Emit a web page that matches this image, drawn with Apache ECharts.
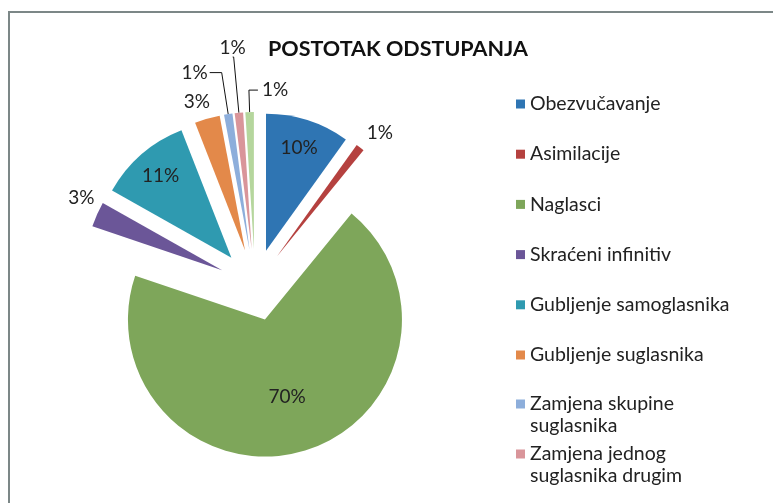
<!DOCTYPE html>
<html><head><meta charset="utf-8">
<script src="https://cdn.jsdelivr.net/npm/echarts@6/dist/echarts.min.js"></script>
<style>
html,body{margin:0;padding:0;background:#fff;}
#frame{position:absolute;left:8px;top:11px;width:820px;height:560px;border:2px solid #7c8787;box-sizing:border-box;}
#chart{position:absolute;left:0;top:0;width:773px;height:503px;}
</style></head><body>
<div id="frame"></div><div id="chart"></div>
<script>
const titleText = 'POSTOTAK ODSTUPANJA';
const categories = ['Obezvučavanje', 'Asimilacije', 'Naglasci', 'Skraćeni infinitiv', 'Gubljenje samoglasnika', 'Gubljenje suglasnika', 'Zamjena skupine suglasnika', 'Zamjena jednog suglasnika drugim', 'Ostalo'];
const values = [10, 1, 70, 3, 11, 3, 1, 1, 1];
const colors = ['#2F75B3', '#B5413F', '#7EA65A', '#6B5698', '#2F9AB0', '#E3894A', '#8DAEDB', '#D9959A', '#B5D69D'];
const wrappedNames = {
  'Zamjena skupine suglasnika': '\nZamjena skupine\nsuglasnika',
  'Zamjena jednog suglasnika drugim': '\nZamjena jednog\nsuglasnika drugim'
};

const FONT = 'Lato';
const TXT = '#222222';
const LABEL_SIZE = 19;
// label style per slice: 'far'/'mid' = inside label from an overlay ring, 'out' = outside
const labelKind = ['far', 'out', 'mid', 'out', 'far', 'out', 'out', 'out', 'out'];
const outCfg = {
  1: {dist: 2, line: false, len: 6, len2: 1, va: 'bottom'},
  3: {dist: -4, line: false, len: 6, len2: 1, va: 'bottom', pad: [0, 0, 5, 0]},
  5: {dist: -6, line: false, len: 8, len2: 1, va: 'bottom'},
  6: {dist: 2, line: true, len: 42, len2: 12},
  7: {dist: 0, line: true, len: 56, len2: 1, va: 'bottom', align: 'center'},
  8: {dist: 2, line: true, len: 22, len2: 9, align: 'left', mirror: true, pad: [0, 0, 0, 24]}
};

const mainData = categories.map((n, i) => {
  const item = {name: n, value: values[i], selected: true, itemStyle: {color: colors[i]}};
  if (labelKind[i] !== 'out') {
    item.label = {show: false};
    item.labelLine = {show: false};
  } else {
    const c = outCfg[i];
    item.label = {show: true, position: 'outside', distanceToLabelLine: c.dist};
    if (c.pad) item.label.padding = c.pad;
    item.labelLine = {show: c.line, length: c.len, length2: c.len2};
  }
  return item;
});
function overlayData(kind) {
  return categories.map((n, i) => ({
    name: n, value: values[i], selected: true,
    itemStyle: {color: 'rgba(0,0,0,0)'},
    label: {show: labelKind[i] === kind}
  }));
}
function overlaySeries(kind, radius) {
  return {
    type: 'pie', name: 'labels-' + kind, center: [255, 285], radius: radius,
    startAngle: 90, clockwise: true, silent: true,
    selectedMode: 'multiple', selectedOffset: 36,
    emphasis: {disabled: true},
    select: {itemStyle: {borderWidth: 0}},
    label: {position: 'inside', fontFamily: FONT, fontSize: LABEL_SIZE, color: TXT, textBorderWidth: 0,
      formatter: p => p.value + '%'},
    labelLine: {show: false},
    data: overlayData(kind)
  };
}

const chart = echarts.init(document.getElementById('chart'), null, {renderer: 'canvas'});
const legendBase = {
  orient: 'vertical', icon: 'rect', itemWidth: 9, itemHeight: 9, padding: 0,
  selectedMode: false, left: 516,
  textStyle: {fontFamily: FONT, fontSize: 19.5, color: TXT, lineHeight: 22}
};
chart.setOption({
  animation: false,
  backgroundColor: 'rgba(0,0,0,0)',
  title: {
    text: titleText, left: 263, top: 33,
    textStyle: {fontFamily: FONT, fontWeight: 'bold', fontSize: 21.5, color: '#111'}
  },
  legend: [
    Object.assign({}, legendBase, {top: 93, itemGap: 28.2, data: categories.slice(0, 6)}),
    Object.assign({}, legendBase, {top: 371, data: [categories[6]],
      formatter: n => wrappedNames[n] || n}),
    Object.assign({}, legendBase, {top: 421, data: [categories[7]],
      formatter: n => wrappedNames[n] || n})
  ],
  series: [
    {
      type: 'pie', name: 'main', center: [255, 285], radius: 137,
      startAngle: 90, clockwise: true,
      selectedMode: 'multiple', selectedOffset: 36,
      avoidLabelOverlap: false,
      emphasis: {disabled: true},
      select: {itemStyle: {borderWidth: 0}},
      itemStyle: {borderWidth: 0},
      label: {fontFamily: FONT, fontSize: LABEL_SIZE, color: TXT, textBorderWidth: 0,
        formatter: p => p.value + '%'},
      labelLine: {smooth: false, lineStyle: {color: '#111', width: 1}},
      data: mainData,
      labelLayout: function (p) {
        const c = outCfg[p.dataIndex];
        if (!c) return {};
        const res = {};
        if (c.va) res.verticalAlign = c.va;
        if (c.align) res.align = c.align;
        if (c.mirror && p.labelLinePoints) {
          const pts = p.labelLinePoints;
          const l2 = Math.abs(pts[2][0] - pts[1][0]);
          res.labelLinePoints = [pts[0], pts[1], [pts[1][0] + l2, pts[1][1]]];
        }
        return res;
      }
    },
    overlaySeries('far', 210),
    overlaySeries('mid', 154)
  ]
});
</script>
</body></html>
